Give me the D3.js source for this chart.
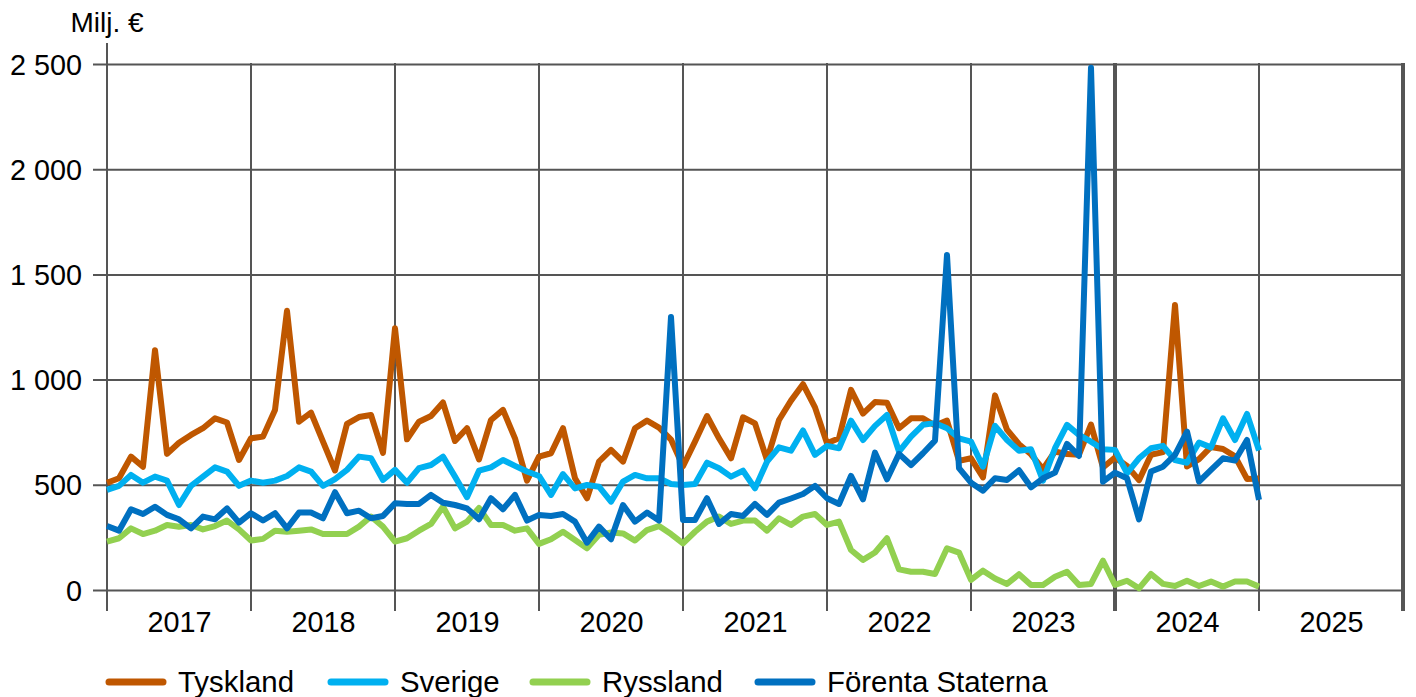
<!DOCTYPE html>
<html>
<head>
<meta charset="utf-8">
<script src="https://cdn.jsdelivr.net/npm/d3@7"></script>
<style>
  html, body { margin: 0; padding: 0; background: #fff; }
  svg { display: block; font-family: "Liberation Sans", Arial, sans-serif; }
</style>
</head>
<body>
<svg id="chart" width="1416" height="697"></svg>
<script>
// ---- Data (Milj. €, monthly, Jan 2017 .. Jan 2025) ----
const years = [2017, 2018, 2019, 2020, 2021, 2022, 2023, 2024, 2025];
const yTicks = [0, 500, 1000, 1500, 2000, 2500];
const seriesNames = ["Tyskland", "Sverige", "Ryssland", "Förenta Staterna"];
const seriesColors = ["#BF5700", "#00B0F0", "#92D050", "#0070C0"];

const tyskland = [
  510, 531, 634, 586, 1140, 647, 700, 737, 769, 816, 796, 618,
  721, 729, 856, 1327, 800, 843, 705, 568, 790, 822, 832, 652,
  1244, 716, 800, 827, 891, 708, 769, 621, 808, 856, 721, 520,
  634, 650, 769, 531, 436, 610, 666, 610, 769, 805, 772, 715,
  588, 705, 827, 721, 626, 821, 792, 618, 808, 900, 978, 868,
  697, 721, 951, 838, 893, 890, 769, 816, 816, 782, 805, 614,
  626, 535, 925, 762, 693, 645, 575, 658, 646, 643, 786, 582,
  630, 590, 522, 643, 655, 1355, 587, 622, 680, 670, 635, 528,
  530
];
const sverige = [
  476, 495, 547, 510, 539, 520, 404, 495, 539, 583, 563, 495,
  520, 510, 520, 542, 583, 563, 495, 527, 571, 634, 626, 523,
  571, 510, 579, 594, 634, 539, 441, 567, 583, 618, 590, 563,
  542, 452, 551, 483, 499, 491, 420, 515, 547, 531, 531, 504,
  499, 504, 605, 579, 539, 567, 483, 610, 678, 662, 758, 642,
  685, 674, 805, 713, 780, 832, 658, 729, 785, 793, 769, 721,
  705, 586, 780, 713, 662, 669, 520, 674, 785, 737, 705, 669,
  666, 555, 626, 674, 685, 618, 605, 701, 678, 816, 713, 837,
  663
];
const ryssland = [
  230, 246, 293, 266, 282, 309, 301, 309, 288, 304, 330, 288,
  235, 243, 282, 277, 282, 288, 266, 266, 266, 301, 349, 301,
  230, 246, 282, 314, 396, 293, 325, 390, 309, 309, 282, 293,
  219, 241, 277, 238, 198, 262, 273, 269, 235, 285, 304, 266,
  222, 277, 325, 349, 314, 330, 330, 282, 341, 309, 349, 361,
  309, 325, 190, 143, 178, 246, 98, 87, 87, 76, 198, 178,
  48, 92, 55, 29, 75, 24, 24, 63, 87, 24, 29, 139,
  24, 44, 8, 76, 29, 19, 44, 19, 40, 16, 40, 40,
  16
];
const forentaStaterna = [
  304, 282, 384, 361, 396, 357, 336, 293, 349, 336, 388, 320,
  365, 330, 365, 293, 368, 368, 341, 465, 365, 377, 341, 352,
  412, 409, 409, 452, 415, 404, 388, 336, 436, 384, 452, 330,
  357, 352, 361, 325, 225, 301, 241, 404, 325, 368, 330, 1298,
  333, 333, 436, 314, 361, 352, 409, 357, 415, 435, 456, 495,
  436, 409, 542, 431, 653, 526, 647, 594, 650, 710, 1592, 579,
  510, 472, 531, 523, 569, 488, 531, 558, 694, 637, 2482, 515,
  558, 531, 336, 563, 586, 642, 753, 515, 571, 626, 615, 713,
  428
];
const seriesValues = [tyskland, sverige, ryssland, forentaStaterna];

(function () {
  const svg = d3.select("#chart");
  const pLeft = 107, pRight = 1403, pTop = 64, pBottom = 590;
  const gridColor = "#555555";

  const x = d3.scaleLinear().domain([0, 108]).range([pLeft, pRight]);
  const y = d3.scaleLinear().domain([0, 2500]).range([pBottom, pTop]);

  const locale = d3.formatLocale({ decimal: ",", thousands: " ", grouping: [3], currency: ["", " €"] });
  const fmt = locale.format(",d");

  // Horizontal gridlines + y labels via axis
  const yAxis = d3.axisLeft(y)
    .tickValues(yTicks)
    .tickSize(-(pRight - pLeft))
    .tickFormat(fmt);
  const gy = svg.append("g").attr("transform", `translate(${pLeft},0)`).call(yAxis);
  gy.select(".domain").remove();
  gy.selectAll(".tick line")
    .attr("x1", -14)
    .attr("stroke", gridColor).attr("stroke-width", 2);
  gy.selectAll(".tick text")
    .attr("fill", "#000").style("font-size", "28.8px")
    .attr("dy", "0.35em")
    .attr("x", -25);

  // Vertical year gridlines
  const yearBounds = d3.range(1, years.length + 1).map(k => k * 12);
  svg.append("g").selectAll("line")
    .data(yearBounds)
    .join("line")
    .attr("x1", d => x(d)).attr("x2", d => x(d))
    .attr("y1", pTop - 1).attr("y2", 611)
    .attr("stroke", gridColor)
    .attr("stroke-width", d => (d === 84 || d === 108) ? 4 : 2);

  // Y axis line
  svg.append("line")
    .attr("x1", pLeft).attr("x2", pLeft)
    .attr("y1", 43).attr("y2", 611)
    .attr("stroke", gridColor).attr("stroke-width", 2);

  // Year labels via bottom axis
  const xAxis = d3.axisBottom(x)
    .tickValues(years.map((yr, i) => i * 12 + 6))
    .tickSize(0)
    .tickPadding(0)
    .tickFormat((d, i) => years[i]);
  const gx = svg.append("g").attr("transform", `translate(0,${pBottom})`).call(xAxis);
  gx.select(".domain").remove();
  gx.selectAll(".tick text")
    .attr("fill", "#000").style("font-size", "28.8px")
    .attr("y", 32).attr("dy", "0.35em");

  // Unit label
  svg.append("text")
    .attr("x", pLeft).attr("y", 32)
    .attr("text-anchor", "middle")
    .style("font-size", "28px")
    .text("Milj. €");

  // Lines
  const line = d3.line()
    .x((d, i) => x(i))
    .y(d => y(d));
  svg.append("g").selectAll("path")
    .data(seriesValues)
    .join("path")
    .attr("d", d => line(d))
    .attr("fill", "none")
    .attr("stroke", (d, i) => seriesColors[i])
    .attr("stroke-width", 6)
    .attr("stroke-linejoin", "round")
    .attr("stroke-linecap", "butt");

  // Legend
  const legendX = [106, 328, 530, 755];
  const legendY = 682;
  const lg = svg.append("g").selectAll("g")
    .data(seriesNames)
    .join("g")
    .attr("transform", (d, i) => `translate(${legendX[i]},${legendY})`);
  lg.append("line")
    .attr("x1", 3).attr("x2", 57)
    .attr("stroke", (d, i) => seriesColors[i])
    .attr("stroke-width", 7)
    .attr("stroke-linecap", "round");
  lg.append("text")
    .attr("x", 72).attr("dy", "0.35em")
    .style("font-size", "29.4px")
    .text(d => d);
})();
</script>
</body>
</html>
